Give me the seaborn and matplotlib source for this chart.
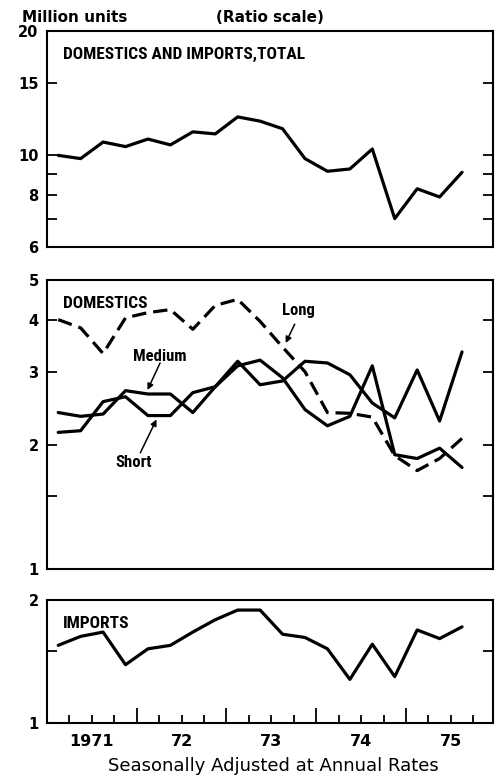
import matplotlib
matplotlib.use("Agg")
import matplotlib.pyplot as plt
import seaborn as sns
import pandas as pd
from matplotlib import font_manager
from matplotlib.ticker import FixedLocator, NullFormatter

# quarterly data, 1971Q1 - 1975Q3, million units (annual rates)
quarters = ["1971Q1", "1971Q2", "1971Q3", "1971Q4",
            "1972Q1", "1972Q2", "1972Q3", "1972Q4",
            "1973Q1", "1973Q2", "1973Q3", "1973Q4",
            "1974Q1", "1974Q2", "1974Q3", "1974Q4",
            "1975Q1", "1975Q2", "1975Q3"]
total = [10.0, 9.82, 10.77, 10.5, 10.95, 10.6, 11.4, 11.27, 12.39, 12.1,
         11.6, 9.82, 9.15, 9.27, 10.36, 7.03, 8.3, 7.93, 9.1]
long_ = [4.01, 3.83, 3.32, 4.05, 4.17, 4.24, 3.80, 4.34, 4.49, 3.97,
         3.44, 3.0, 2.39, 2.38, 2.33, 1.88, 1.73, 1.85, 2.07]
medium = [2.39, 2.34, 2.37, 2.70, 2.65, 2.65, 2.39, 2.76, 3.18, 2.79,
          2.85, 3.18, 3.15, 2.95, 2.52, 2.32, 3.03, 2.28, 3.35]
short = [2.14, 2.16, 2.54, 2.61, 2.35, 2.35, 2.67, 2.76, 3.10, 3.20,
         2.90, 2.43, 2.22, 2.34, 3.10, 1.89, 1.85, 1.96, 1.76]
imports = [1.55, 1.63, 1.67, 1.39, 1.52, 1.55, 1.67, 1.79, 1.89, 1.89,
           1.65, 1.62, 1.52, 1.28, 1.56, 1.30, 1.69, 1.61, 1.72]

year_labels = ["1971", "72", "73", "74", "75"]

df = pd.DataFrame({"quarter": quarters, "total": total, "long": long_,
                   "medium": medium, "short": short, "imports": imports})
df["x"] = df["quarter"].str[:4].astype(int) + (df["quarter"].str[-1].astype(int) - 0.5) / 4

sns.set_theme(style="ticks")
plt.rcParams["font.family"] = ["DejaVu Sans"]
plt.rcParams["text.color"] = "black"


def has_font(name):
    try:
        font_manager.findfont(font_manager.FontProperties(family=name),
                              fallback_to_default=False)
        return True
    except ValueError:
        return False


# condensed face for the panel captions, if one is around
if has_font("Roboto Condensed"):
    narrow, nscale = ["Roboto Condensed", "DejaVu Sans"], 1.0
elif has_font("Liberation Sans Narrow"):
    narrow, nscale = ["Liberation Sans Narrow", "DejaVu Sans"], 1.0
else:
    narrow, nscale = ["Liberation Sans", "DejaVu Sans"], 0.8

fig = plt.figure(figsize=(5, 7.77), dpi=100)
ax1 = fig.add_axes([0.094, 1 - 247 / 777, 0.892, 216 / 777])
ax2 = fig.add_axes([0.094, 1 - 569 / 777, 0.892, 289 / 777])
ax3 = fig.add_axes([0.094, 1 - 723.3 / 777, 0.892, 123.3 / 777])

LW = 2.3
sns.lineplot(data=df, x="x", y="total", ax=ax1, color="black", linewidth=LW, errorbar=None)
sns.lineplot(data=df, x="x", y="long", ax=ax2, color="black", linewidth=LW, errorbar=None)
ax2.lines[-1].set_dashes([4.5, 2.2])
sns.lineplot(data=df, x="x", y="medium", ax=ax2, color="black", linewidth=LW, errorbar=None)
sns.lineplot(data=df, x="x", y="short", ax=ax2, color="black", linewidth=LW, errorbar=None)
sns.lineplot(data=df, x="x", y="imports", ax=ax3, color="black", linewidth=LW, errorbar=None)

yspec = [
    (ax1, (6, 20), [20, 15, 10, 8, 6], [9, 7]),
    (ax2, (1, 5), [5, 4, 3, 2, 1], [1.5]),
    (ax3, (1, 2), [2, 1], [1.5]),
]
for ax, lim, labeled, extra in yspec:
    ax.set_yscale("log")
    ax.set_ylim(*lim)
    ax.set_xlim(1971.0, 1975.97)
    ax.yaxis.set_major_locator(FixedLocator(labeled))
    ax.set_yticklabels([str(v) for v in labeled])
    ax.yaxis.set_minor_locator(FixedLocator(extra))
    ax.yaxis.set_minor_formatter(NullFormatter())
    ax.tick_params(axis="y", which="both", direction="in", length=7.2, width=1.3,
                   left=True, right=True, labelsize=10.5, pad=6, colors="black")
    for lbl in ax.get_yticklabels():
        lbl.set_fontweight("bold")
    ax.set_xlabel("")
    ax.set_ylabel("")
    for sp in ax.spines.values():
        sp.set_visible(True)
        sp.set_linewidth(1.5)
        sp.set_color("black")

for ax in (ax1, ax2):
    ax.tick_params(axis="x", which="both", bottom=False, labelbottom=False)

# bottom axis: long ticks at year boundaries, short ticks at quarters
ax3.set_xticks([1972, 1973, 1974, 1975], labels=["", "", "", ""])
minor_pos = [y + q / 4 for y in range(1971, 1976) for q in (1, 2, 3)]
minor_lab = [year_labels[int(p) - 1971] if p % 1 == 0.5 else "" for p in minor_pos]
ax3.set_xticks(minor_pos, labels=minor_lab, minor=True)
ax3.tick_params(axis="x", which="major", direction="in", length=11, width=1.3, colors="black")
ax3.tick_params(axis="x", which="minor", direction="in", length=5.5, width=1.3,
                labelsize=11.5, pad=8, colors="black")
for lbl in ax3.get_xticklabels(minor=True):
    lbl.set_fontweight("bold")

# panel titles
cap = dict(family=narrow, fontweight="bold", ha="left", va="center", color="black")
ax1.text(0.036, 0.889, "DOMESTICS AND IMPORTS,TOTAL", transform=ax1.transAxes,
         fontsize=12.5 * nscale, **cap)
ax2.text(0.036, 0.920, "DOMESTICS", transform=ax2.transAxes,
         fontsize=12.5 * nscale, **cap)
ax3.text(0.036, 0.813, "IMPORTS", transform=ax3.transAxes,
         fontsize=12.5 * nscale, **cap)

lab = dict(family=narrow, fontweight="bold", ha="center", va="center", color="black",
           fontsize=12 * nscale)
arrow = dict(arrowstyle="-|>", color="black", lw=1.1, mutation_scale=9, shrinkA=0, shrinkB=0)
ax2.text(1973.80, 4.22, "Long", **lab)
ax2.annotate("", xy=(1973.66, 3.52), xytext=(1973.76, 3.91), arrowprops=arrow)
ax2.text(1972.26, 3.27, "Medium", **lab)
ax2.annotate("", xy=(1972.12, 2.71), xytext=(1972.26, 3.15), arrowprops=arrow)
ax2.text(1971.97, 1.81, "Short", **lab)
ax2.annotate("", xy=(1972.22, 2.30), xytext=(1972.04, 1.91), arrowprops=arrow)

fig.text(22 / 500, 1 - 18 / 777, "Million units", ha="left", va="center",
         fontsize=11, fontweight="bold")
fig.text(270 / 500, 1 - 18 / 777, "(Ratio scale)", ha="center", va="center",
         fontsize=11, fontweight="bold")
fig.text(273 / 500, 1 - 766 / 777, "Seasonally Adjusted at Annual Rates",
         ha="center", va="center", fontsize=13)

fig.savefig("out.png", dpi=100, facecolor="white")
